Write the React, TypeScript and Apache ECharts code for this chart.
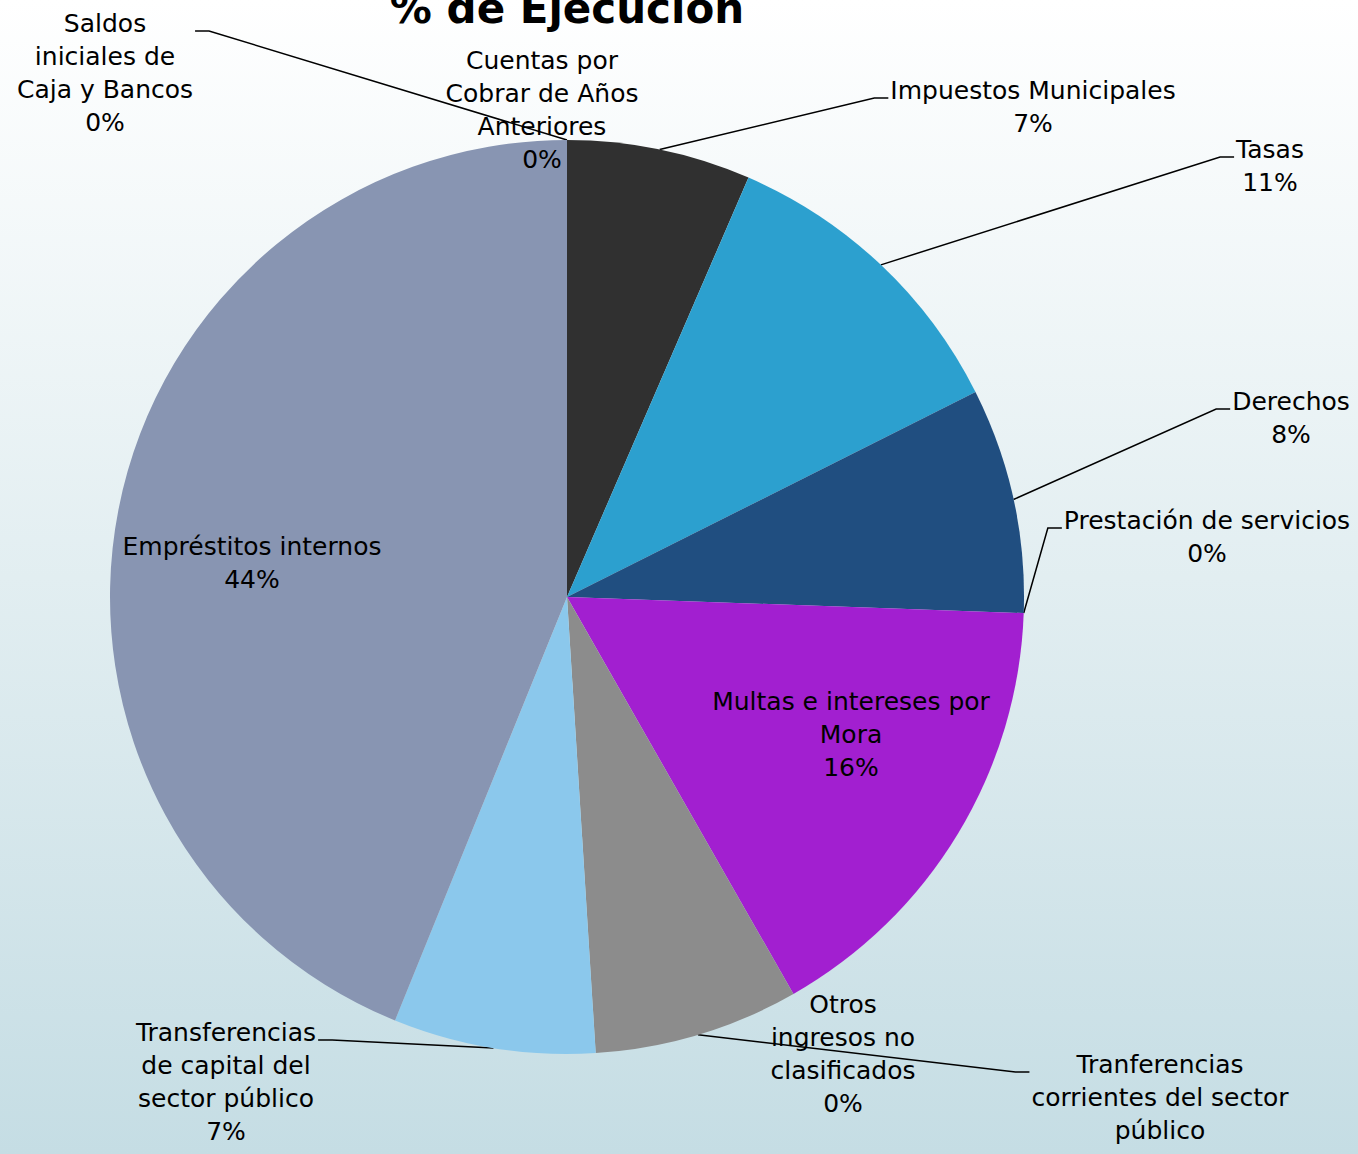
import React, { useEffect, useRef } from "react";
import * as echarts from "echarts";

const categories = [
  "Impuestos Municipales",
  "Tasas",
  "Derechos",
  "Prestación de servicios",
  "Multas e intereses por Mora",
  "Otros ingresos no clasificados",
  "Tranferencias corrientes del sector público",
  "Transferencias de capital del sector público",
  "Empréstitos internos",
  "Saldos iniciales de Caja y Bancos",
  "Cuentas por Cobrar de Años Anteriores",
];

const values = [6.5, 11.1, 7.96, 0, 16.19, 0, 7.25, 7.14, 43.86, 0, 0];

const sliceColors = [
  "#303030", "#2ca0cf", "#204e80", "#5b7fb0", "#a21fd0", "#6f6f6f",
  "#8c8c8c", "#8bc8ec", "#8895b2", "#c090e0", "#e070c0",
];

// display wrapping of each category label
const wrappedNames = [
  "Impuestos Municipales",
  "Tasas",
  "Derechos",
  "Prestación de servicios",
  "Multas e intereses por\nMora",
  "Otros\ningresos no\nclasificados",
  "Tranferencias\ncorrientes del sector\npúblico",
  "Transferencias\nde capital del\nsector público",
  "Empréstitos internos",
  "Saldos\niniciales de\nCaja y Bancos",
  "Cuentas por\nCobrar de Años\nAnteriores",
];

// label centres (layout)
const labelCenters: [number, number][] = [
  [1033, 107],
  [1270, 166],
  [1291, 418],
  [1207, 537],
  [851, 734],
  [843, 1054],
  [1160, 1114],
  [226, 1082],
  [252, 563],
  [105, 73],
  [542, 110],
];

const noLine = [4, 5, 8, 10];

export default function App() {
  const ref = useRef<HTMLDivElement>(null);
  useEffect(() => {
    document.body.style.margin = "0";
    if (!ref.current) return;
    const chart = echarts.init(ref.current, null, { renderer: "svg" });
    const font = "DejaVu Sans";
    chart.setOption({
      animation: false,
      backgroundColor: new echarts.graphic.LinearGradient(0, 0, 0, 1, [
        { offset: 0, color: "#ffffff" },
        { offset: 0.5, color: "#e2eef1" },
        { offset: 1, color: "#c5dde4" },
      ]),
      graphic: [
        {
          type: "text",
          x: 567,
          y: -13,
          style: {
            text: "% de Ejecución",
            font: `bold 42px "${font}"`,
            fill: "#000",
            textAlign: "center",
          },
        },
      ],
      series: [
        {
          type: "pie",
          center: [567, 597],
          radius: 457,
          startAngle: 90,
          clockwise: true,
          avoidLabelOverlap: false,
          itemStyle: { borderWidth: 0 },
          label: {
            show: true,
            position: "outside",
            fontFamily: font,
            fontSize: 25,
            lineHeight: 33,
            color: "#000",
            align: "center",
            formatter: (p: any) =>
              `${wrappedNames[p.dataIndex]}\n${Math.round(p.percent)}%`,
          },
          labelLine: {
            show: true,
            length: 20,
            length2: 14,
            lineStyle: { color: "#000", width: 1.5 },
          },
          labelLayout: (params: any) => {
            const i = params.dataIndex;
            const c = labelCenters[i];
            const out: any = {
              x: c[0],
              y: c[1],
              align: "center",
              verticalAlign: "middle",
            };
            const pts = params.labelLinePoints;
            if (!noLine.includes(i) && pts && pts.length) {
              const anchor = pts[0];
              const w = params.labelRect.width;
              const h = params.labelRect.height;
              const top = c[1] - h / 2;
              const ly = top + 24;
              const toRight = c[0] > anchor[0];
              const ex = toRight ? c[0] - w / 2 - 2 : c[0] + w / 2 + 2;
              const bx = toRight ? ex - 14 : ex + 14;
              out.labelLinePoints = [anchor, [bx, ly], [ex, ly]];
            }
            return out;
          },
          emphasis: { disabled: true },
          data: categories.map((name, i) => ({
            name,
            value: values[i],
            itemStyle: { color: sliceColors[i] },
            labelLine: noLine.includes(i) ? { show: false } : undefined,
          })),
        },
      ],
    });
    return () => chart.dispose();
  }, []);
  return <div ref={ref} style={{ width: 1358, height: 1154 }} />;
}
